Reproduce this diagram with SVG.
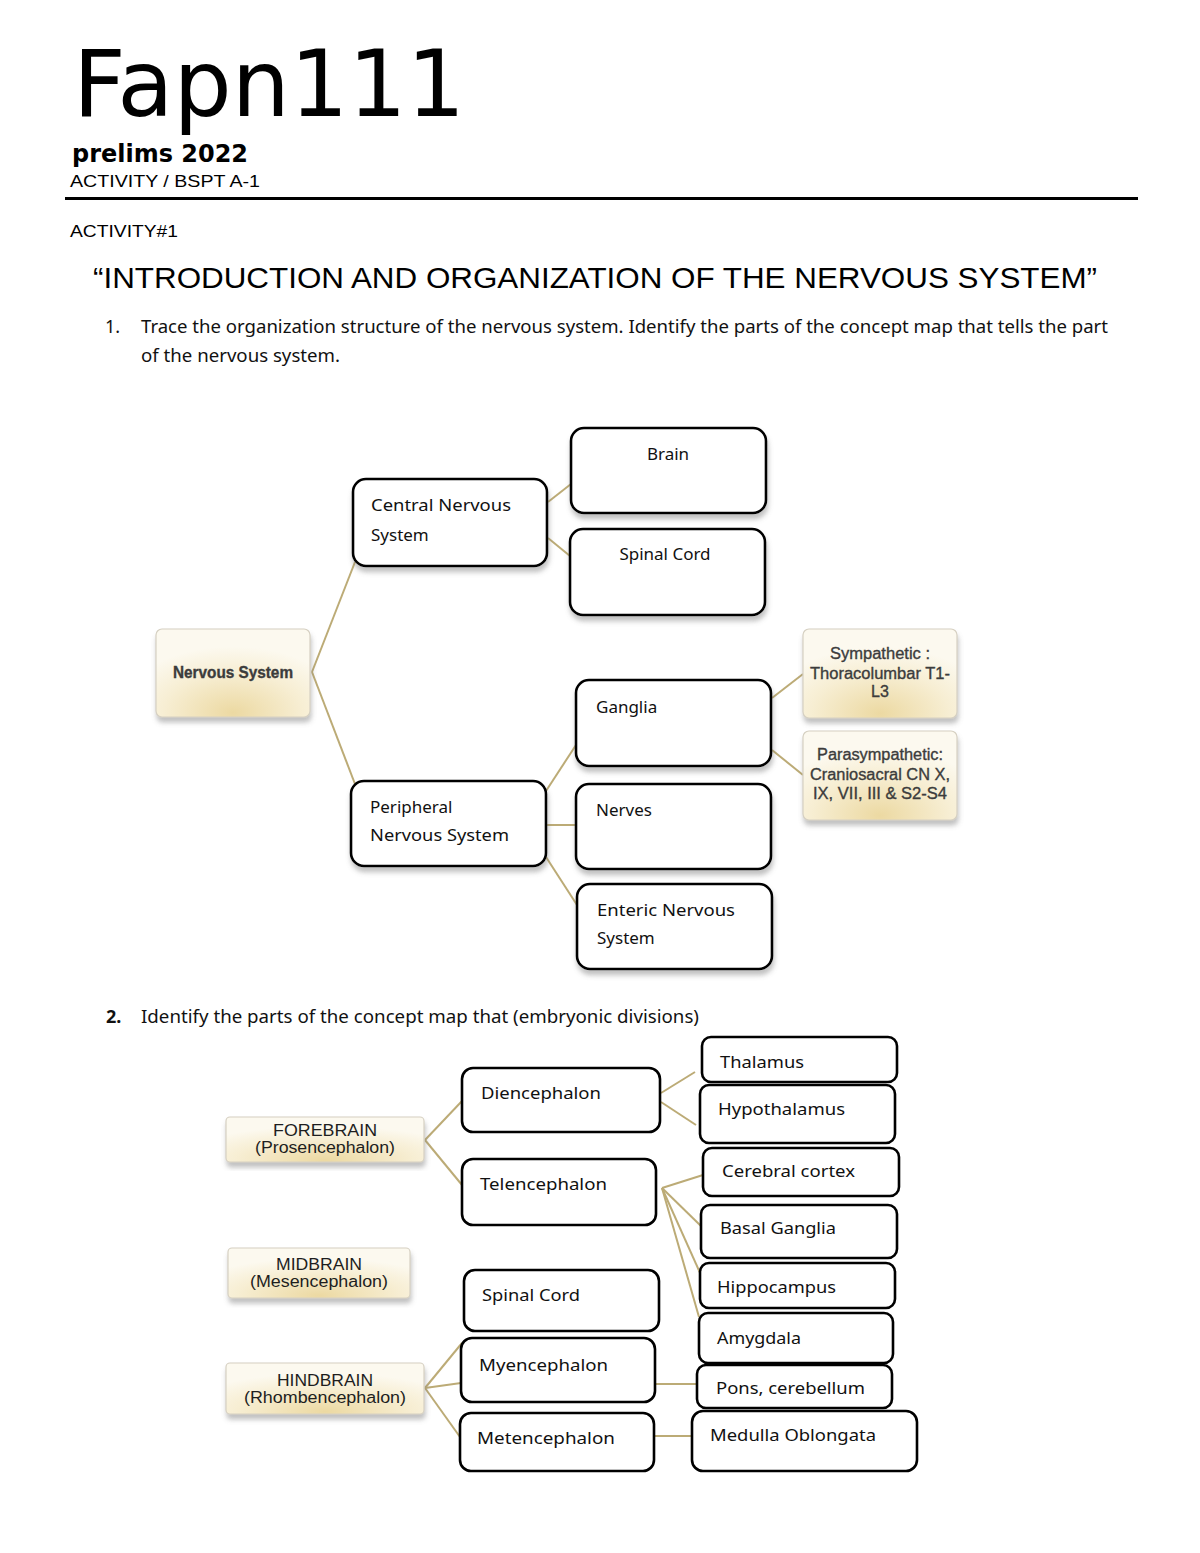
<svg xmlns="http://www.w3.org/2000/svg" width="1200" height="1553" viewBox="0 0 1200 1553">
<defs>
<style>
.n{fill:#fff;stroke:#000;stroke-width:2.6}
.b{stroke:#d6d0c2;stroke-width:1.2}
.t{font-family:"Noto Sans","Open Sans",sans-serif;font-size:17px;fill:#111}
.bt{font-family:"Liberation Sans",Arial,sans-serif;font-size:16px;fill:#3c3c3c;text-anchor:middle;stroke:#3c3c3c;stroke-width:0.35}
.bt2{font-family:"Liberation Sans",Arial,sans-serif;font-size:16px;fill:#1e1e1e;text-anchor:middle}
.c{stroke:#bcab76;stroke-width:2;fill:none}
.ins{font-family:"Noto Sans","Open Sans",sans-serif;font-size:18px;fill:#111}
</style>
<filter id="sh" x="-10%" y="-10%" width="120%" height="130%">
<feDropShadow dx="1" dy="5" stdDeviation="2.5" flood-color="#777" flood-opacity="0.45"/>
</filter>
<radialGradient id="beige" cx="50%" cy="95%" r="75%">
<stop offset="0" stop-color="#ecd9a2"/>
<stop offset="0.6" stop-color="#f7eed3"/>
<stop offset="1" stop-color="#fcf9ef"/>
</radialGradient>
</defs>

<!-- header -->
<text x="73" y="116" font-family="DejaVu Sans,sans-serif" font-size="92" textLength="392" lengthAdjust="spacingAndGlyphs">Fapn111</text>
<text x="72" y="162" font-family="DejaVu Sans,sans-serif" font-weight="bold" font-size="25" textLength="176" lengthAdjust="spacingAndGlyphs">prelims 2022</text>
<text x="70" y="187" font-family="Liberation Sans,Arial,sans-serif" font-size="17" textLength="190" lengthAdjust="spacingAndGlyphs">ACTIVITY / BSPT A-1</text>
<line x1="65" y1="198.5" x2="1138" y2="198.5" stroke="#000" stroke-width="3"/>
<text x="70" y="237" font-family="Liberation Sans,Arial,sans-serif" font-size="17" textLength="108" lengthAdjust="spacingAndGlyphs">ACTIVITY#1</text>
<text x="93" y="288" font-family="Liberation Sans,Arial,sans-serif" font-size="29" textLength="1004" lengthAdjust="spacingAndGlyphs">“INTRODUCTION AND ORGANIZATION OF THE NERVOUS SYSTEM”</text>
<text x="105" y="333" class="ins">1.</text>
<text x="141" y="333" class="ins" textLength="967" lengthAdjust="spacingAndGlyphs">Trace the organization structure of the nervous system. Identify the parts of the concept map that tells the part</text>
<text x="141" y="362" class="ins" textLength="199" lengthAdjust="spacingAndGlyphs">of the nervous system.</text>
<text x="106" y="1023" class="ins" font-weight="bold">2.</text>
<text x="141" y="1023" class="ins" textLength="558" lengthAdjust="spacingAndGlyphs">Identify the parts of the concept map that (embryonic divisions)</text>

<!-- connectors -->
<g id="connectors">
<line class="c" x1="312" y1="672" x2="355" y2="562"/>
<line class="c" x1="312" y1="672" x2="355" y2="784"/>
<line class="c" x1="548" y1="502" x2="571" y2="484"/>
<line class="c" x1="548" y1="538" x2="570" y2="556"/>
<line class="c" x1="546" y1="791" x2="576" y2="745"/>
<line class="c" x1="546" y1="825" x2="576" y2="825"/>
<line class="c" x1="546" y1="857" x2="577" y2="905"/>
<line class="c" x1="772" y1="698" x2="803" y2="674"/>
<line class="c" x1="772" y1="750" x2="803" y2="775"/>
<line class="c" x1="425" y1="1140" x2="462" y2="1101"/>
<line class="c" x1="425" y1="1140" x2="462" y2="1185"/>
<line class="c" x1="425" y1="1388" x2="462" y2="1343"/>
<line class="c" x1="425" y1="1388" x2="461" y2="1383"/>
<line class="c" x1="425" y1="1388" x2="460" y2="1437"/>
<line class="c" x1="661" y1="1093" x2="695" y2="1072"/>
<line class="c" x1="661" y1="1102" x2="696" y2="1125"/>
<line class="c" x1="662" y1="1188" x2="703" y2="1175"/>
<line class="c" x1="662" y1="1188" x2="702" y2="1227"/>
<line class="c" x1="662" y1="1188" x2="701" y2="1275"/>
<line class="c" x1="662" y1="1188" x2="699" y2="1317"/>
<line class="c" x1="655" y1="1384" x2="697" y2="1384"/>
<line class="c" x1="654" y1="1436" x2="692" y2="1436"/>
</g>

<!-- diagram 1 nodes -->
<g id="nervous-system">
<rect x="156" y="629" width="154" height="88" rx="6" fill="url(#beige)" class="b" filter="url(#sh)"/>
<text x="233" y="678" class="bt" font-size="17" font-weight="bold" textLength="120" lengthAdjust="spacingAndGlyphs">Nervous System</text>
</g>
<g id="cns">
<rect x="353" y="479" width="194" height="87" rx="13" class="n" filter="url(#sh)"/>
<text x="371" y="511" class="t" textLength="140" lengthAdjust="spacingAndGlyphs">Central Nervous</text>
<text x="371" y="541" class="t">System</text>
</g>
<g id="brain">
<rect x="571" y="428" width="195" height="85" rx="13" class="n" filter="url(#sh)"/>
<text x="668" y="460" class="t" text-anchor="middle">Brain</text>
</g>
<g id="spinal-cord-1">
<rect x="570" y="529" width="195" height="86" rx="13" class="n" filter="url(#sh)"/>
<text x="665" y="560" class="t" text-anchor="middle">Spinal Cord</text>
</g>
<g id="pns">
<rect x="351" y="781" width="195" height="85" rx="13" class="n" filter="url(#sh)"/>
<text x="370" y="813" class="t">Peripheral</text>
<text x="370" y="841" class="t" textLength="139" lengthAdjust="spacingAndGlyphs">Nervous System</text>
</g>
<g id="ganglia">
<rect x="576" y="680" width="195" height="86" rx="13" class="n" filter="url(#sh)"/>
<text x="596" y="713" class="t">Ganglia</text>
</g>
<g id="nerves">
<rect x="576" y="784" width="195" height="85" rx="13" class="n" filter="url(#sh)"/>
<text x="596" y="816" class="t">Nerves</text>
</g>
<g id="enteric">
<rect x="577" y="884" width="195" height="85" rx="13" class="n" filter="url(#sh)"/>
<text x="597" y="916" class="t" textLength="138" lengthAdjust="spacingAndGlyphs">Enteric Nervous</text>
<text x="597" y="944" class="t">System</text>
</g>
<g id="sympathetic">
<rect x="803" y="629" width="154" height="89" rx="6" fill="url(#beige)" class="b" filter="url(#sh)"/>
<text x="880" y="659" class="bt" textLength="100" lengthAdjust="spacingAndGlyphs">Sympathetic :</text>
<text x="880" y="679" class="bt" textLength="140" lengthAdjust="spacingAndGlyphs">Thoracolumbar T1-</text>
<text x="880" y="697" class="bt">L3</text>
</g>
<g id="parasympathetic">
<rect x="803" y="731" width="154" height="89" rx="6" fill="url(#beige)" class="b" filter="url(#sh)"/>
<text x="880" y="760" class="bt" textLength="126" lengthAdjust="spacingAndGlyphs">Parasympathetic:</text>
<text x="880" y="780" class="bt" textLength="140" lengthAdjust="spacingAndGlyphs">Craniosacral CN X,</text>
<text x="880" y="799" class="bt" textLength="134" lengthAdjust="spacingAndGlyphs">IX, VII, III &amp; S2-S4</text>
</g>

<!-- diagram 2 nodes -->
<g id="forebrain">
<rect x="226" y="1117" width="198" height="45" rx="4" fill="url(#beige)" class="b" filter="url(#sh)"/>
<text x="325" y="1136" class="bt2" textLength="104" lengthAdjust="spacingAndGlyphs">FOREBRAIN</text>
<text x="325" y="1153" class="bt2" textLength="140" lengthAdjust="spacingAndGlyphs">(Prosencephalon)</text>
</g>
<g id="midbrain">
<rect x="228" y="1248" width="182" height="50" rx="4" fill="url(#beige)" class="b" filter="url(#sh)"/>
<text x="319" y="1270" class="bt2" textLength="86" lengthAdjust="spacingAndGlyphs">MIDBRAIN</text>
<text x="319" y="1287" class="bt2" textLength="138" lengthAdjust="spacingAndGlyphs">(Mesencephalon)</text>
</g>
<g id="hindbrain">
<rect x="226" y="1363" width="198" height="51" rx="4" fill="url(#beige)" class="b" filter="url(#sh)"/>
<text x="325" y="1386" class="bt2" textLength="96" lengthAdjust="spacingAndGlyphs">HINDBRAIN</text>
<text x="325" y="1403" class="bt2" textLength="162" lengthAdjust="spacingAndGlyphs">(Rhombencephalon)</text>
</g>
<g id="diencephalon">
<rect x="462" y="1068" width="198" height="64" rx="11" class="n"/>
<text x="481" y="1099" class="t" textLength="120" lengthAdjust="spacingAndGlyphs">Diencephalon</text>
</g>
<g id="telencephalon">
<rect x="462" y="1159" width="194" height="66" rx="11" class="n"/>
<text x="480" y="1190" class="t" textLength="127" lengthAdjust="spacingAndGlyphs">Telencephalon</text>
</g>
<g id="spinal-cord-2">
<rect x="464" y="1270" width="195" height="61" rx="11" class="n"/>
<text x="482" y="1301" class="t" textLength="98" lengthAdjust="spacingAndGlyphs">Spinal Cord</text>
</g>
<g id="myencephalon">
<rect x="461" y="1338" width="194" height="64" rx="11" class="n"/>
<text x="479" y="1371" class="t" textLength="129" lengthAdjust="spacingAndGlyphs">Myencephalon</text>
</g>
<g id="metencephalon">
<rect x="460" y="1413" width="194" height="58" rx="11" class="n"/>
<text x="477" y="1444" class="t" textLength="138" lengthAdjust="spacingAndGlyphs">Metencephalon</text>
</g>
<g id="thalamus">
<rect x="702" y="1037" width="195" height="45" rx="9" class="n"/>
<text x="720" y="1068" class="t" textLength="84" lengthAdjust="spacingAndGlyphs">Thalamus</text>
</g>
<g id="hypothalamus">
<rect x="700" y="1085" width="195" height="58" rx="9" class="n"/>
<text x="718" y="1115" class="t" textLength="127" lengthAdjust="spacingAndGlyphs">Hypothalamus</text>
</g>
<g id="cerebral-cortex">
<rect x="703" y="1148" width="196" height="48" rx="9" class="n"/>
<text x="722" y="1177" class="t" textLength="133" lengthAdjust="spacingAndGlyphs">Cerebral cortex</text>
</g>
<g id="basal-ganglia">
<rect x="701" y="1205" width="196" height="53" rx="9" class="n"/>
<text x="720" y="1234" class="t" textLength="116" lengthAdjust="spacingAndGlyphs">Basal Ganglia</text>
</g>
<g id="hippocampus">
<rect x="700" y="1263" width="195" height="45" rx="9" class="n"/>
<text x="717" y="1293" class="t" textLength="119" lengthAdjust="spacingAndGlyphs">Hippocampus</text>
</g>
<g id="amygdala">
<rect x="699" y="1313" width="194" height="50" rx="9" class="n"/>
<text x="717" y="1344" class="t" textLength="84" lengthAdjust="spacingAndGlyphs">Amygdala</text>
</g>
<g id="pons">
<rect x="697" y="1365" width="195" height="43" rx="9" class="n"/>
<text x="716" y="1394" class="t" textLength="149" lengthAdjust="spacingAndGlyphs">Pons, cerebellum</text>
</g>
<g id="medulla">
<rect x="692" y="1411" width="225" height="60" rx="11" class="n"/>
<text x="710" y="1441" class="t" textLength="166" lengthAdjust="spacingAndGlyphs">Medulla Oblongata</text>
</g>
</svg>
